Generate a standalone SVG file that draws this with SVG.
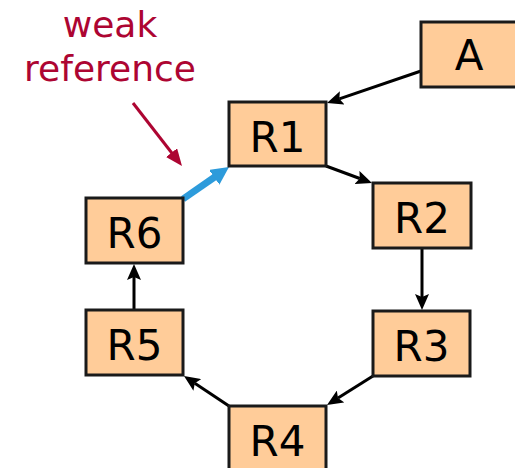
<svg xmlns="http://www.w3.org/2000/svg" width="515" height="468" viewBox="0 0 515 468">
<style>
.box{fill:#FFCC99;stroke:#1a1a1a;stroke-width:3}
.lbl{font-family:"DejaVu Sans",Verdana,sans-serif;font-size:42px;fill:#000;text-anchor:middle}
.edge{stroke:#000;stroke-width:3;fill:none}
.note{font-family:"DejaVu Sans",Verdana,sans-serif;font-size:36px;fill:#AD0532;text-anchor:middle}
</style>
<defs>
<marker id="ah" markerUnits="userSpaceOnUse" markerWidth="16" markerHeight="14" refX="3" refY="7" orient="auto"><path d="M0,0 L16,7 L0,14 L3,7 z" fill="#000"/></marker>
<marker id="ahb" markerUnits="userSpaceOnUse" markerWidth="18" markerHeight="18" refX="3" refY="9" orient="auto"><path d="M0,0 L18,9 L0,18 z" fill="#2D9BDB"/></marker>
<marker id="ahr" markerUnits="userSpaceOnUse" markerWidth="17" markerHeight="14" refX="3" refY="7" orient="auto"><path d="M0,0 L17,7 L0,14 z" fill="#AD0532"/></marker>
</defs>
<g id="connectors">
<line class="edge" x1="421" y1="71" x2="339.3" y2="98.8" marker-end="url(#ah)"/>
<line class="edge" x1="326" y1="166" x2="359.8" y2="178.5" marker-end="url(#ah)"/>
<line class="edge" x1="422" y1="248" x2="422" y2="297" marker-end="url(#ah)"/>
<line class="edge" x1="373" y1="376" x2="338" y2="398.1" marker-end="url(#ah)"/>
<line class="edge" x1="229" y1="406" x2="194.8" y2="383.2" marker-end="url(#ah)"/>
<line class="edge" x1="134" y1="310" x2="134" y2="277" marker-end="url(#ah)"/>
<line x1="183" y1="199" x2="216.7" y2="175.6" stroke="#2D9BDB" stroke-width="7" marker-end="url(#ahb)"/>
<line x1="133" y1="103" x2="173.4" y2="155" stroke="#AD0532" stroke-width="3" marker-end="url(#ahr)"/>
</g>
<g id="note"><text class="note" x="110" y="37">weak</text><text class="note" x="110" y="81">reference</text></g>
<g id="A"><rect class="box" x="421" y="22" width="96" height="65"/><text class="lbl" x="469" y="70">A</text></g>
<g id="R1"><rect class="box" x="229" y="102" width="97" height="64"/><text class="lbl" x="277.5" y="152">R1</text></g>
<g id="R2"><rect class="box" x="373" y="183" width="98" height="65"/><text class="lbl" x="422" y="233">R2</text></g>
<g id="R3"><rect class="box" x="373" y="311" width="97" height="65"/><text class="lbl" x="421.5" y="361">R3</text></g>
<g id="R4"><rect class="box" x="229" y="406" width="97" height="65"/><text class="lbl" x="277.5" y="456">R4</text></g>
<g id="R5"><rect class="box" x="86" y="310" width="97" height="65"/><text class="lbl" x="134.5" y="360">R5</text></g>
<g id="R6"><rect class="box" x="86" y="198" width="97" height="65"/><text class="lbl" x="134.5" y="248">R6</text></g>
</svg>
